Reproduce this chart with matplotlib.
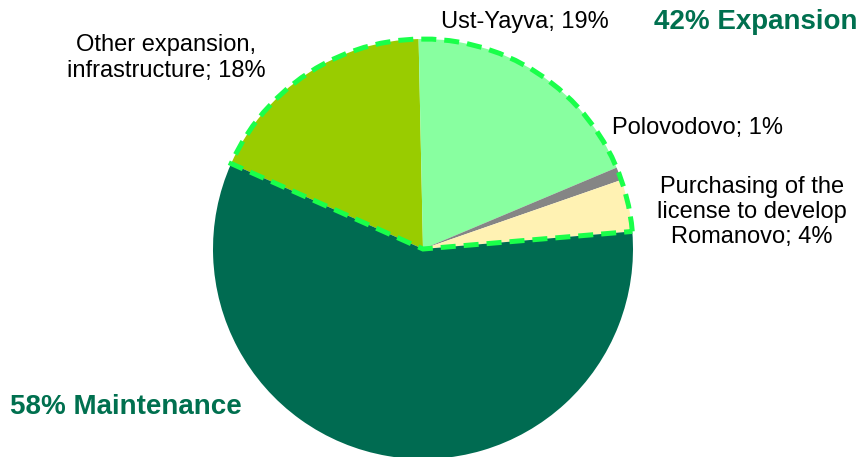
import matplotlib.pyplot as plt
from matplotlib.patches import Wedge

plt.rcParams['font.family'] = ['Liberation Sans', 'DejaVu Sans']

labels = ["Other expansion,\ninfrastructure; 18%", "Ust-Yayva; 19%", "Polovodovo; 1%",
          "Purchasing of the\nlicense to develop\nRomanovo; 4%", ""]
values = [18, 19, 1, 4, 58]
colors = ["#99CC00", "#88FFA0", "#858585", "#FFF2B3", "#006B51"]
label_pos = [(166, 58), (525, 22), (698, 128), (752, 212)]

group_names = ["42% Expansion", "58% Maintenance"]
group_pos = [(756, 22), (126, 407)]

W, H = 864, 457
cx, cy, r = 423, H - 249, 210
start = 156

fig = plt.figure(figsize=(W / 100, H / 100), dpi=100)
ax = fig.add_axes([0, 0, 1, 1])

ax.pie(values, colors=colors, startangle=start, counterclock=False,
       center=(cx, cy), radius=r, frame=True,
       wedgeprops=dict(linewidth=0))
ax.set_xlim(0, W)
ax.set_ylim(0, H)
ax.axis('off')

# dashed outline round the expansion slices
exp_share = sum(values[:4]) / sum(values) * 360
outline = Wedge((cx, cy), r, start - exp_share, start, fill=False,
                edgecolor="#1AFF4A", linewidth=3.6, zorder=5)
outline.set_linestyle((0, (3, 1.6)))
ax.add_patch(outline)

for lab, (x, y) in zip(labels, label_pos):
    ax.text(x, H - y, lab, ha='center', va='center', fontsize=17,
            color='black', linespacing=1.2)

for name, (x, y) in zip(group_names, group_pos):
    ax.text(x, H - y, name, ha='center', va='center', fontsize=20,
            fontweight='bold', color='#00704F')

fig.savefig("out.png", dpi=100)
